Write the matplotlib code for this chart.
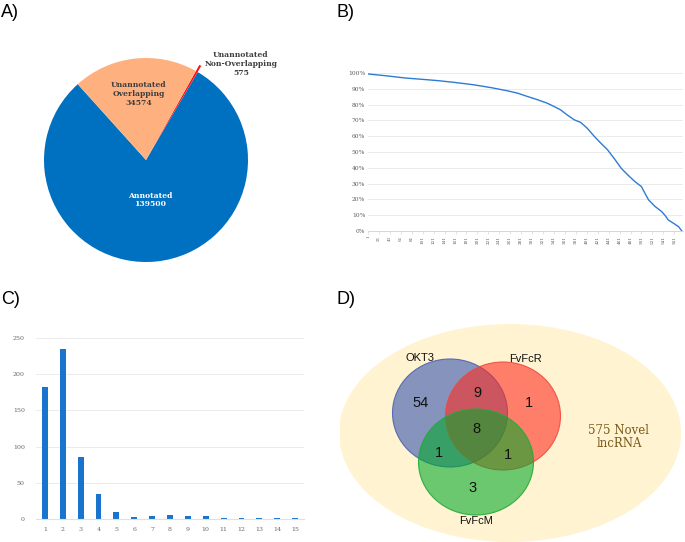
import numpy as np
import matplotlib
matplotlib.use("Agg")
import matplotlib.pyplot as plt
from matplotlib.patches import Ellipse

W, H = 685, 542

# panel A: pie
pie_labels = ["Annotated", "Unannotated\nNon-Overlapping", "Unannotated\nOverlapping"]
pie_values = [139500, 575, 34574]
pie_colors = ["#0070C0", "#FF1010", "#FFB07F"]

# panel B: cumulative curve
b_x = [1, 35, 70, 100, 131, 160, 193, 225, 255, 275, 292, 310, 328, 340, 353,
       365, 378, 390, 402, 415, 427, 439, 452, 464, 476, 489, 501, 508, 514,
       526, 538, 545, 550, 560, 569, 575]
b_y = [99.4, 98.2, 96.8, 96.0, 95.1, 94.0, 92.6, 90.8, 88.8, 87.2, 85.2, 83.2,
       81.0, 79.0, 76.7, 73.5, 70.4, 68.7, 65.0, 59.8, 55.5, 51.4, 45.5, 39.7,
       35.5, 31.3, 28.1, 23.5, 19.7, 15.5, 12.3, 9.5, 7.0, 4.8, 2.7, 0.0]
b_ticks = list(range(1, 576, 20))

# panel C: bar chart
c_cats = list(range(1, 16))
c_vals = [182, 235, 85, 34, 10, 3, 4, 6, 4, 4, 2, 1, 2, 2, 1]

# panel D: venn counts
venn_sets = ["OKT3", "FvFcR", "FvFcM"]
venn_counts = {"OKT3": 54, "OKT3&FvFcR": 9, "FvFcR": 1, "all": 8,
               "OKT3&FvFcM": 1, "FvFcR&FvFcM": 1, "FvFcM": 3}
novel_total = 575


def px_axes(fig, x0, y0, x1, y1):
    return fig.add_axes([x0 / W, 1 - y1 / H, (x1 - x0) / W, (y1 - y0) / H])


fig = plt.figure(figsize=(W / 100, H / 100), dpi=100)
fig.patch.set_facecolor("white")

lab = dict(fontsize=13, family="Liberation Sans", va="top", ha="left")
fig.text(1 / W, 1 - 4 / H, "A)", **lab)
fig.text(337 / W, 1 - 4 / H, "B)", **lab)
fig.text(1 / W, 1 - 291 / H, "C)", **lab)
fig.text(337 / W, 1 - 291 / H, "D)", **lab)

# ---- A) pie
cx, cy, r = 146, 160, 102
axA = px_axes(fig, cx - r, cy - r, cx + r, cy + r)
axA.pie(pie_values, colors=pie_colors, startangle=132, counterclock=True,
        explode=[0, 0.07, 0], radius=1)
axA.set_xlim(-1, 1)
axA.set_ylim(-1, 1)
axA.set_aspect("auto")
axA.axis("off")


def pd(px, py):
    return (px - cx) / r, (cy - py) / r


serif = "DejaVu Serif"
axA.text(*pd(150, 200), f"{pie_labels[0]}\n{pie_values[0]}", color="white",
         fontsize=5.5, fontweight="bold", family=serif, ha="center", va="center",
         linespacing=1.1)
axA.text(*pd(139, 94), f"{pie_labels[2]}\n{pie_values[2]}", color="#404040",
         fontsize=5.5, fontweight="bold", family=serif, ha="center", va="center",
         linespacing=1.1)
axA.text(*pd(241, 64), f"{pie_labels[1]}\n{pie_values[1]}", color="#404040",
         fontsize=5.5, fontweight="bold", family=serif, ha="center", va="center",
         linespacing=1.1, clip_on=False)

# ---- B) line
axB = px_axes(fig, 368, 73, 683, 231)
axB.plot(b_x, b_y, color="#2E7BD4", lw=1.0)
axB.set_ylim(0, 100)
axB.set_xlim(1, 577)
axB.set_yticks(range(0, 101, 10))
axB.set_yticklabels([f"{v}%" for v in range(0, 101, 10)], family=serif,
                    fontsize=4.3, color="#595959")
axB.set_xticks(b_ticks)
axB.set_xticklabels([str(t) for t in b_ticks], rotation=90, family=serif,
                    fontsize=3.0, color="#595959")
axB.grid(axis="y", color="#E6E6E6", lw=0.6)
axB.set_axisbelow(True)
for s in ["top", "right", "left"]:
    axB.spines[s].set_visible(False)
axB.spines["bottom"].set_color("#D0D0D0")
axB.spines["bottom"].set_linewidth(0.6)
axB.tick_params(axis="y", length=0, pad=2)
axB.tick_params(axis="x", length=2, width=0.4, color="#D0D0D0", pad=1.5)

# ---- C) bars
axC = px_axes(fig, 36, 338, 304, 519)
axC.bar(c_cats, c_vals, width=0.33, color="#1874CD")
axC.set_ylim(0, 250)
axC.set_xlim(0.5, 15.5)
axC.set_yticks(range(0, 251, 50))
axC.set_yticklabels([str(v) for v in range(0, 251, 50)], family=serif,
                    fontsize=4.5, color="#666666")
axC.set_xticks(c_cats)
axC.set_xticklabels([str(c) for c in c_cats], family=serif, fontsize=4.5,
                    color="#666666")
axC.grid(axis="y", color="#EBEBEB", lw=0.7)
axC.set_axisbelow(True)
for s in ["top", "right", "left"]:
    axC.spines[s].set_visible(False)
axC.spines["bottom"].set_color("#E0E0E0")
axC.spines["bottom"].set_linewidth(0.8)
axC.tick_params(length=0, pad=6)
axC.tick_params(axis="y", pad=8)

# ---- D) venn
axD = px_axes(fig, 340, 280, 685, 542)
axD.set_xlim(340, 685)
axD.set_ylim(542, 280)
axD.axis("off")
axD.add_patch(Ellipse((510, 433), 342, 218, color="#FFF3D1", lw=0))
circ = [((450, 413), 115, 108, "#2F4FAF", "#4A64B0"),
        ((503, 416), 115, 108, "#FF2A1E", "#F04A40"),
        ((476, 462), 115, 106, "#00AA28", "#22AA3A")]
for (xy, w, h, fc, ec) in circ:
    axD.add_patch(Ellipse(xy, w, h, facecolor=fc, alpha=0.58, lw=0))
    axD.add_patch(Ellipse(xy, w, h, facecolor="none", edgecolor=ec, lw=0.8,
                          alpha=0.9))

nf = dict(fontsize=10.5, family="Liberation Sans", ha="center", va="center",
          color="#111111")
axD.text(421, 403, str(venn_counts["OKT3"]), **nf)
axD.text(477, 393, str(venn_counts["OKT3&FvFcR"]), **nf)
axD.text(529, 403, str(venn_counts["FvFcR"]), **nf)
axD.text(476, 429, str(venn_counts["all"]), **nf)
axD.text(439, 453, str(venn_counts["OKT3&FvFcM"]), **nf)
axD.text(508, 455, str(venn_counts["FvFcR&FvFcM"]), **nf)
axD.text(473, 488, str(venn_counts["FvFcM"]), **nf)

sf = dict(fontsize=8, family="Liberation Sans", ha="center", va="center",
          color="#111111")
axD.text(420, 358, venn_sets[0], **sf)
axD.text(525, 359, venn_sets[1], **sf)
axD.text(476, 521, venn_sets[2], **sf)

axD.text(619, 437, f"{novel_total} Novel\nlncRNA", fontsize=8.5, family=serif,
         ha="center", va="center", color="#7A5A1A", linespacing=1.0)

fig.savefig("out.png", dpi=100, facecolor="white")
